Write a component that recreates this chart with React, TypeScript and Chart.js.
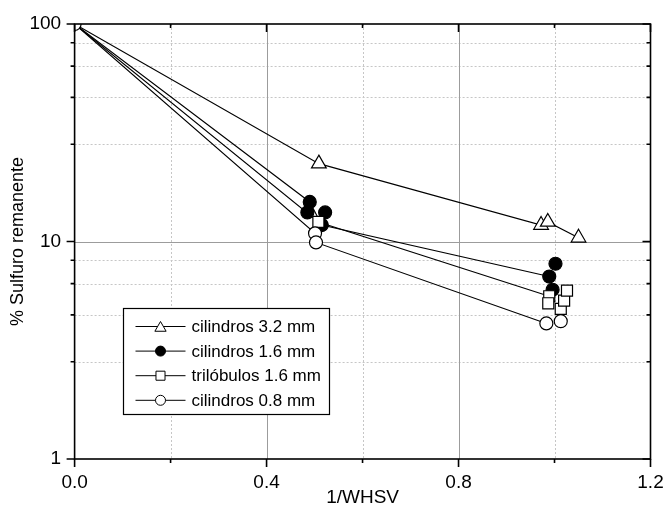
import { useEffect, useRef } from 'react';
import { Chart, registerables } from 'chart.js';

Chart.register(...registerables);

const FONT = '"Liberation Sans", Arial, Helvetica, sans-serif';
const CANVAS_W = 665;
const CANVAS_H = 530;

const seriesNames = ['cilindros 3.2 mm', 'cilindros 1.6 mm', 'trilóbulos 1.6 mm', 'cilindros 0.8 mm'];

// cilindros 3.2 mm
const c32PointsX = [0.509, 0.972, 0.986, 1.05];
const c32PointsY = [22.8, 11.9, 12.3, 10.4];
const c32CurveX = [0, 0.509, 0.972, 0.986, 1.05];
const c32CurveY = [100, 22.8, 11.9, 12.3, 10.4];

// cilindros 1.6 mm
const c16PointsX = [0.49, 0.485, 0.522, 0.515, 1.002, 0.989, 0.996];
const c16PointsY = [15.2, 13.6, 13.6, 11.9, 7.9, 6.9, 6.0];
const c16CurveX = [0, 0.49, 0.515, 0.989];
const c16CurveY = [100, 15.2, 11.9, 6.9];

// trilóbulos 1.6 mm
const triPointsX = [0.508, 0.989, 0.987, 1.013, 1.02, 1.026];
const triPointsY = [12.3, 5.6, 5.2, 4.9, 5.35, 5.95];
const triCurveX = [0, 0.508, 0.989];
const triCurveY = [100, 12.3, 5.6];

// cilindros 0.8 mm
const c08PointsX = [0, 0.501, 0.503, 0.983, 1.013];
const c08PointsY = [100, 10.9, 9.9, 4.2, 4.3];
const c08CurveX = [0, 0.501, 0.503, 0.983];
const c08CurveY = [100, 10.9, 9.9, 4.2];

// axis ticks
const xTicks = [0, 0.2, 0.4, 0.6, 0.8, 1.0, 1.2];
const xMajor = [0, 0.4, 0.8, 1.2];
const xLabels = ['0.0', '0.4', '0.8', '1.2'];
const yTicks = [1, 2.8, 4.6, 6.4, 8.2, 10, 28, 46, 64, 82, 100];
const yMajor = [1, 10, 100];
const yLabels = ['1', '10', '100'];

type Shape = 'triangle' | 'circle' | 'rect';
const markerShapes: Shape[] = ['triangle', 'circle', 'rect', 'circle'];
const markerFills = ['#ffffff', '#000000', '#ffffff', '#ffffff'];
const markerRadii = [8.5, 6.5, 7.8, 6.5];

const zip = (xs: number[], ys: number[]) => xs.map((x, i) => ({ x, y: ys[i] }));

function drawMarker(ctx: CanvasRenderingContext2D, shape: Shape, x: number, y: number, r: number, fill: string) {
  ctx.beginPath();
  if (shape === 'circle') {
    ctx.arc(x, y, r, 0, Math.PI * 2);
  } else if (shape === 'triangle') {
    for (let k = 0; k < 3; k++) {
      const a = (k * 2 * Math.PI) / 3;
      const px = x + Math.sin(a) * r;
      const py = y - Math.cos(a) * r;
      if (k === 0) ctx.moveTo(px, py);
      else ctx.lineTo(px, py);
    }
    ctx.closePath();
  } else {
    const s = r * Math.SQRT1_2;
    ctx.rect(x - s, y - s, 2 * s, 2 * s);
  }
  ctx.fillStyle = fill;
  ctx.fill();
  ctx.stroke();
}

const gridPlugin = {
  id: 'originGrid',
  beforeDatasetsDraw(chart: any) {
    const { ctx, chartArea: a } = chart;
    const xs = chart.scales.x;
    const ys = chart.scales.y;
    ctx.save();
    ctx.lineWidth = 1;
    // minor grid: dotted
    ctx.setLineDash([2, 2]);
    ctx.strokeStyle = '#c6c6c6';
    for (const v of xTicks) {
      if (xMajor.includes(v)) continue;
      const px = Math.round(xs.getPixelForValue(v)) + 0.5;
      ctx.beginPath();
      ctx.moveTo(px, a.top);
      ctx.lineTo(px, a.bottom);
      ctx.stroke();
    }
    for (const v of yTicks) {
      if (yMajor.includes(v)) continue;
      const py = Math.round(ys.getPixelForValue(v)) + 0.5;
      ctx.beginPath();
      ctx.moveTo(a.left, py);
      ctx.lineTo(a.right, py);
      ctx.stroke();
    }
    // major grid: solid
    ctx.setLineDash([]);
    ctx.strokeStyle = '#9c9c9c';
    for (const v of xMajor) {
      const px = Math.round(xs.getPixelForValue(v)) + 0.5;
      if (px < a.left + 2 || px > a.right - 2) continue;
      ctx.beginPath();
      ctx.moveTo(px, a.top);
      ctx.lineTo(px, a.bottom);
      ctx.stroke();
    }
    for (const v of yMajor) {
      const py = Math.round(ys.getPixelForValue(v)) + 0.5;
      if (py < a.top + 2 || py > a.bottom - 2) continue;
      ctx.beginPath();
      ctx.moveTo(a.left, py);
      ctx.lineTo(a.right, py);
      ctx.stroke();
    }
    ctx.restore();
  },
};

const framePlugin = {
  id: 'originFrame',
  afterDatasetsDraw(chart: any) {
    const { ctx, chartArea: a } = chart;
    const xs = chart.scales.x;
    const ys = chart.scales.y;
    ctx.save();
    ctx.strokeStyle = '#000';
    ctx.lineWidth = 1.6;
    ctx.strokeRect(a.left, a.top, a.right - a.left, a.bottom - a.top);
    ctx.beginPath();
    for (const v of xTicks) {
      const px = xs.getPixelForValue(v);
      const len = xMajor.includes(v) ? 8 : 4;
      ctx.moveTo(px, a.bottom);
      ctx.lineTo(px, a.bottom + len);
      ctx.moveTo(px, a.top);
      ctx.lineTo(px, a.top + len);
    }
    for (const v of yTicks) {
      const py = ys.getPixelForValue(v);
      const len = yMajor.includes(v) ? 8 : 4;
      ctx.moveTo(a.left, py);
      ctx.lineTo(a.left - len, py);
      ctx.moveTo(a.right, py);
      ctx.lineTo(a.right - len, py);
    }
    ctx.stroke();
    ctx.restore();
  },
};

const legendPlugin = {
  id: 'boxLegend',
  afterDraw(chart: any) {
    const { ctx, chartArea: a } = chart;
    const left = Math.round(a.left + 48) + 0.5;
    const top = Math.round(a.top + 284) + 0.5;
    const w = 206;
    const h = 106;
    ctx.save();
    ctx.fillStyle = '#fff';
    ctx.fillRect(left, top, w, h);
    ctx.strokeStyle = '#000';
    ctx.lineWidth = 1.2;
    ctx.strokeRect(left, top, w, h);
    ctx.font = `17px ${FONT}`;
    ctx.textBaseline = 'middle';
    ctx.textAlign = 'left';
    seriesNames.forEach((name, i) => {
      const cy = top + 18 + i * 24.6;
      ctx.lineWidth = 1;
      ctx.strokeStyle = '#000';
      ctx.beginPath();
      ctx.moveTo(left + 12, cy);
      ctx.lineTo(left + 62, cy);
      ctx.stroke();
      const r = markerShapes[i] === 'triangle' ? 6.5 : markerShapes[i] === 'rect' ? 6.4 : 5;
      drawMarker(ctx, markerShapes[i], left + 37, markerShapes[i] === 'triangle' ? cy + 1.5 : cy, r, markerFills[i]);
      ctx.fillStyle = '#000';
      ctx.fillText(name, left + 68, cy + 1);
    });
    ctx.restore();
  },
};

export default function App() {
  const canvasRef = useRef<HTMLCanvasElement | null>(null);

  useEffect(() => {
    const canvas = canvasRef.current;
    if (!canvas) return;

    const curveStyle = {
      showLine: true,
      pointRadius: 0,
      borderColor: '#000',
      borderWidth: 1.1,
      order: 10,
    };
    const pointStyle = (i: number) => ({
      showLine: false,
      pointStyle: markerShapes[i],
      pointRadius: markerRadii[i],
      pointBackgroundColor: markerFills[i],
      pointBorderColor: '#000',
      pointBorderWidth: 1.2,
      order: 4 - i,
    });

    const chart = new Chart(canvas, {
      type: 'scatter',
      data: {
        datasets: [
          { label: seriesNames[0] + ' curve', data: zip(c32CurveX, c32CurveY), ...curveStyle },
          { label: seriesNames[1] + ' curve', data: zip(c16CurveX, c16CurveY), ...curveStyle },
          { label: seriesNames[2] + ' curve', data: zip(triCurveX, triCurveY), ...curveStyle },
          { label: seriesNames[3] + ' curve', data: zip(c08CurveX, c08CurveY), ...curveStyle },
          { label: seriesNames[0], data: zip(c32PointsX, c32PointsY), ...pointStyle(0) },
          { label: seriesNames[1], data: zip(c16PointsX, c16PointsY), ...pointStyle(1) },
          { label: seriesNames[2], data: zip(triPointsX, triPointsY), ...pointStyle(2) },
          { label: seriesNames[3], data: zip(c08PointsX, c08PointsY), ...pointStyle(3) },
        ],
      },
      options: {
        responsive: false,
        animation: false,
        devicePixelRatio: 1,
        layout: { padding: { top: 24, right: 14.5, left: 0, bottom: 0 } },
        plugins: {
          legend: { display: false },
          tooltip: { enabled: false },
        },
        scales: {
          x: {
            type: 'linear',
            min: 0,
            max: 1.2,
            grid: { display: false, drawTicks: false },
            border: { display: false },
            afterBuildTicks: (s: any) => {
              s.ticks = xTicks.map((v) => ({ value: v }));
            },
            afterFit: (s: any) => {
              s.height = CANVAS_H - 459;
              s.paddingLeft = 0;
              s.paddingRight = 0;
            },
            ticks: {
              autoSkip: false,
              maxRotation: 0,
              padding: 12,
              color: '#000',
              font: { family: FONT, size: 19 },
              callback: (v: any) => {
                const k = xMajor.findIndex((m) => Math.abs(m - Number(v)) < 1e-9);
                return k >= 0 ? xLabels[k] : '';
              },
            },
            title: {
              display: true,
              text: '1/WHSV',
              color: '#000',
              font: { family: FONT, size: 19 },
              padding: { top: 0, bottom: 20.6 },
            },
          },
          y: {
            type: 'logarithmic',
            min: 1,
            max: 100,
            grid: { display: false, drawTicks: false },
            border: { display: false },
            afterBuildTicks: (s: any) => {
              s.ticks = yTicks.map((v) => ({ value: v }));
            },
            afterFit: (s: any) => {
              s.width = 74.6;
              s.paddingTop = 0;
              s.paddingBottom = 0;
            },
            ticks: {
              autoSkip: false,
              padding: 13.5,
              color: '#000',
              font: { family: FONT, size: 19 },
              callback: (v: any) => {
                const k = yMajor.findIndex((m) => Math.abs(m - Number(v)) < 1e-9);
                return k >= 0 ? yLabels[k] : '';
              },
            },
            title: {
              display: true,
              text: '% Sulfuro remanente',
              color: '#000',
              font: { family: FONT, size: 18 },
              padding: { top: 7, bottom: 0 },
            },
          },
        },
      },
      plugins: [gridPlugin, framePlugin, legendPlugin],
    } as any);

    return () => chart.destroy();
  }, []);

  return (
    <div
      style={{
        position: 'fixed',
        left: 0,
        top: 0,
        width: CANVAS_W,
        height: 506,
        overflow: 'hidden',
        background: '#fff',
      }}
    >
      <canvas ref={canvasRef} width={CANVAS_W} height={CANVAS_H} style={{ display: 'block' }} />
    </div>
  );
}
